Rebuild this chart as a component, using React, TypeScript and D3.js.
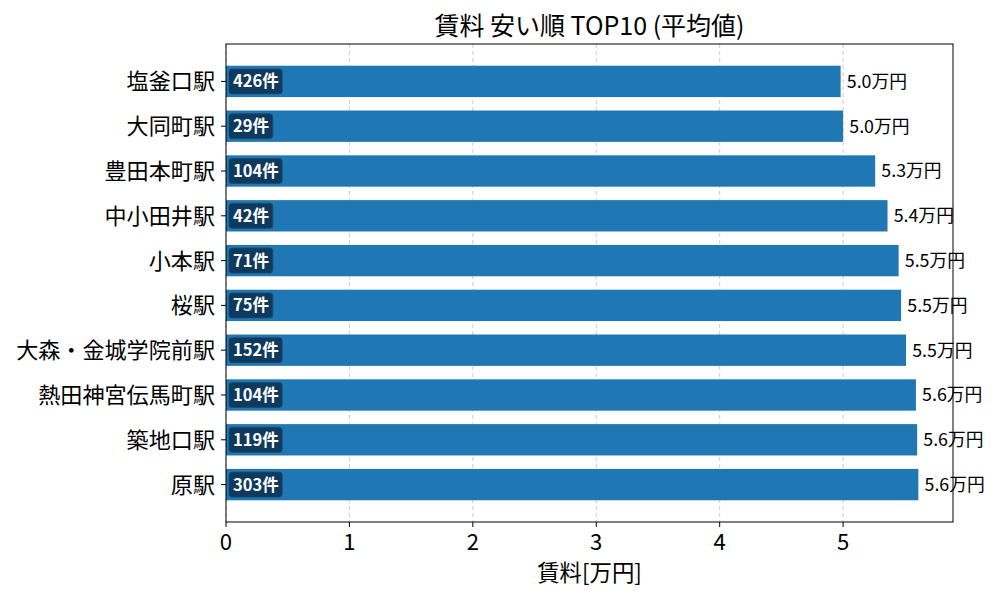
import React from "react";
import * as d3 from "d3";

const stations = [
  "塩釜口駅",
  "大同町駅",
  "豊田本町駅",
  "中小田井駅",
  "小本駅",
  "桜駅",
  "大森・金城学院前駅",
  "熱田神宮伝馬町駅",
  "築地口駅",
  "原駅",
];
const rents = [4.98, 5.0, 5.26, 5.36, 5.45, 5.47, 5.51, 5.59, 5.6, 5.61];
const counts = [426, 29, 104, 42, 71, 75, 152, 104, 119, 303];
const xTicks = [0, 1, 2, 3, 4, 5];

const W = 1000;
const H = 600;
const M = { left: 226, right: 953, top: 44, bottom: 522 };
const FONT = "'Noto Sans CJK JP', 'Noto Sans', sans-serif";

export default function App() {
  const xMax = (d3.max(rents) as number) * 1.05;
  const x = d3.scaleLinear().domain([0, xMax]).range([M.left, M.right]);
  const barH = 0.7;
  const lo = -barH / 2;
  const hi = stations.length - 1 + barH / 2;
  const pad = (hi - lo) * 0.05;
  const y = d3.scaleLinear().domain([lo - pad, hi + pad]).range([M.top, M.bottom]);
  const bandPx = Math.abs(y(barH) - y(0));

  return (
    <div style={{ position: "absolute", left: 0, top: 0 }}>
      <svg width={W} height={H} style={{ display: "block", background: "#fff" }} fontFamily={FONT}>
        {/* grid */}
        {xTicks.map((t) => (
          <line
            key={"g" + t}
            x1={x(t)}
            x2={x(t)}
            y1={M.top}
            y2={M.bottom}
            stroke="#b0b0b0"
            strokeOpacity={0.7}
            strokeDasharray="4,3"
            strokeWidth={0.9}
          />
        ))}
        {/* bars */}
        {stations.map((s, i) => (
          <rect
            key={"b" + s}
            x={x(0)}
            y={y(i) - bandPx / 2}
            width={x(rents[i]) - x(0)}
            height={bandPx}
            fill="#1f77b4"
          />
        ))}
        {/* count labels */}
        {stations.map((s, i) => {
          const label = `${counts[i]}件`;
          const w = String(counts[i]).length * 9.4 + 17 + 8;
          return (
            <g key={"c" + s}>
              <rect
                x={x(0) + 3}
                y={y(i) - 12.5}
                width={w}
                height={25}
                rx={3}
                fill="#0d3354"
                fillOpacity={0.9}
                stroke="#1c4a70"
                strokeWidth={0.8}
              />
              <text
                x={x(0) + 7}
                y={y(i)}
                dy="0.36em"
                fill="#fff"
                fontWeight="bold"
                fontSize={16.5}
              >
                {label}
              </text>
            </g>
          );
        })}
        {/* value labels */}
        {stations.map((s, i) => (
          <text
            key={"v" + s}
            x={x(rents[i] + 0.05)}
            y={y(i)}
            dy="0.36em"
            fontSize={17.8}
            fill="#000"
          >
            {`${rents[i].toFixed(1)}万円`}
          </text>
        ))}
        {/* axes frame */}
        <rect
          x={M.left}
          y={M.top}
          width={M.right - M.left}
          height={M.bottom - M.top}
          fill="none"
          stroke="#000"
          strokeWidth={1}
        />
        {/* y ticks */}
        {stations.map((s, i) => (
          <g key={"y" + s}>
            <line x1={M.left - 5} x2={M.left} y1={y(i)} y2={y(i)} stroke="#000" />
            <text
              x={M.left - 11}
              y={y(i)}
              dy="0.36em"
              textAnchor="end"
              fontSize={22.1}
              fill="#000"
            >
              {s}
            </text>
          </g>
        ))}
        {/* x ticks */}
        {xTicks.map((t) => (
          <g key={"x" + t}>
            <line x1={x(t)} x2={x(t)} y1={M.bottom} y2={M.bottom + 5} stroke="#000" />
            <text x={x(t)} y={550} textAnchor="middle" fontSize={22.1} fill="#000">
              {t}
            </text>
          </g>
        ))}
        <text x={(M.left + M.right) / 2} y={581} textAnchor="middle" fontSize={22.4} fill="#000">
          賃料[万円]
        </text>
        <text x={(M.left + M.right) / 2} y={35} textAnchor="middle" fontSize={25} fill="#000">
          賃料 安い順 TOP10 (平均値)
        </text>
      </svg>
    </div>
  );
}
